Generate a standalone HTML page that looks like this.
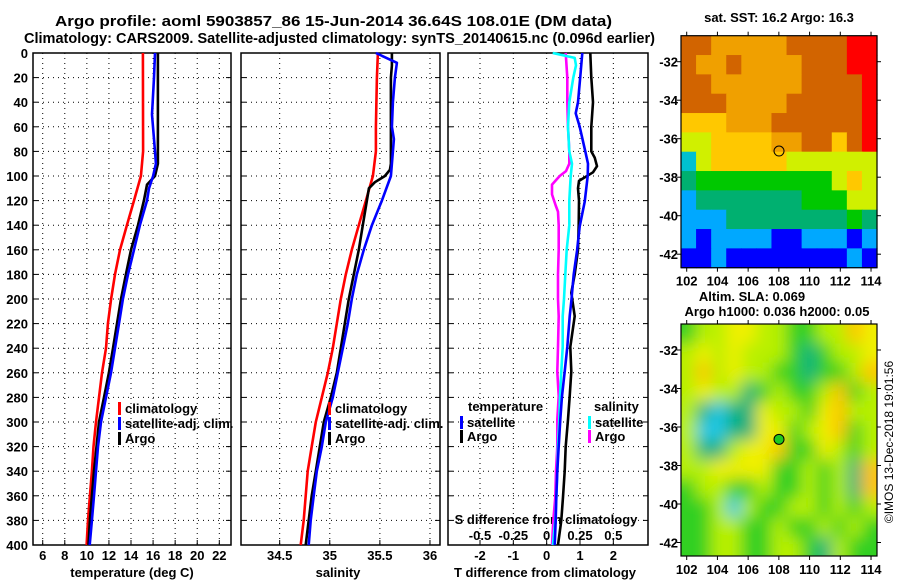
<!DOCTYPE html>
<html><head><meta charset="utf-8">
<style>
html,body{margin:0;padding:0;background:#fff;}
svg{display:block;font-family:"Liberation Sans",sans-serif;font-weight:bold;}
text{fill:#000;}
</style></head>
<body>
<svg id="chart" width="900" height="580" viewBox="0 0 900 580" xmlns="http://www.w3.org/2000/svg">
<defs>
<filter id="blur" x="-5%" y="-5%" width="110%" height="110%"><feGaussianBlur stdDeviation="8"/></filter>
<clipPath id="clipM2"><rect x="681" y="324" width="196" height="232"/></clipPath>
</defs>
<text x="55" y="26" font-size="14.5" textLength="557" lengthAdjust="spacingAndGlyphs">Argo profile: aoml 5903857_86 15-Jun-2014 36.64S 108.01E (DM data)</text>
<text x="24" y="43" font-size="14.5" textLength="631" lengthAdjust="spacingAndGlyphs">Climatology: CARS2009. Satellite-adjusted climatology: synTS_20140615.nc (0.096d earlier)</text>
<g id="g"></g>
</svg>
<script>
// ---- data (depth in m) ----
const depthsT_clim = [0,80,100,120,140,160,180,200,220,240,260,280,300,320,340,360,380,400];
const tempClim = [15.08,15.1,14.9,14.27,13.63,13.0,12.55,12.2,11.91,11.73,11.37,11.1,10.83,10.6,10.46,10.28,10.1,9.98];
const depthsT_sat = [0,20,50,60,80,90,100,110,120,140,160,180,200,220,240,260,280,300,320,340,360,380,400];
const tempSat = [16.17,16.08,15.9,15.99,16.17,16.26,16.0,15.63,15.45,14.81,14.27,13.73,13.27,12.91,12.55,12.19,11.73,11.28,11.01,10.83,10.65,10.46,10.26];
const depthsT_argo = [0,90,100,107,120,140,160,180,200,220,240,260,280,300,320,340,360,380,400];
const tempArgo = [16.44,16.44,16.17,15.45,15.17,14.63,14.0,13.54,13.09,12.73,12.37,12.0,11.55,11.1,10.87,10.65,10.46,10.28,10.15];

const depthsS_clim = [0,20,60,80,100,120,140,160,180,200,220,240,260,280,300,320,340,360,380,400];
const salClim = [35.48,35.47,35.46,35.46,35.43,35.36,35.29,35.22,35.16,35.11,35.07,35.03,34.98,34.92,34.86,34.82,34.78,34.76,34.74,34.71];
const depthsS_sat = [0,8,20,40,60,70,80,100,120,140,160,180,200,220,240,260,280,300,320,340,360,380,400];
const salSat = [35.46,35.67,35.65,35.63,35.62,35.64,35.63,35.61,35.52,35.42,35.34,35.27,35.22,35.18,35.13,35.08,35.03,34.96,34.92,34.87,34.84,34.81,34.79];
const depthsS_argo = [0,10,20,90,95,100,105,110,120,140,160,180,200,220,240,260,280,300,320,340,360,380,400];
const salArgo = [35.62,35.62,35.61,35.61,35.60,35.55,35.45,35.39,35.37,35.33,35.29,35.24,35.19,35.15,35.11,35.07,35.01,34.94,34.90,34.86,34.82,34.79,34.76];

const depthsD_T = [0,19,40,49,60,80,90,100,121,141,161,180,202,214,239,259,279,298,320,340,361,380,400];
const tDiffSat = [1.07,1.01,0.94,0.87,0.99,1.16,1.24,1.23,1.14,0.99,0.91,0.81,0.74,0.69,0.62,0.54,0.46,0.41,0.36,0.32,0.29,0.27,0.24];
const depthsD_TA = [0,20,40,60,80,85,92,97,104,110,120,140,160,180,195,214,239,259,279,298,320,340,361,380,400];
const tDiffArgo = [1.31,1.34,1.39,1.34,1.34,1.44,1.51,1.39,0.97,0.94,0.97,0.96,0.94,0.84,0.74,0.84,0.71,0.74,0.69,0.64,0.57,0.54,0.49,0.44,0.34];
const depthsD_S = [0,4,10,20,40,60,80,90,100,120,140,160,180,200,214,239,259,279,298,320,340,361,380,400];
const sDiffSat = [0.045,0.21,0.22,0.2,0.17,0.16,0.17,0.19,0.18,0.17,0.17,0.15,0.14,0.13,0.12,0.12,0.11,0.10,0.095,0.085,0.08,0.073,0.065,0.047];
const depthsD_SA = [0,20,40,60,80,90,96,100,107,115,124,129,140,160,180,200,214,239,259,279,298,320,340,361,380,400];
const sDiffArgo = [0.143,0.155,0.155,0.16,0.17,0.17,0.145,0.098,0.04,0.04,0.068,0.085,0.09,0.09,0.085,0.085,0.09,0.085,0.08,0.09,0.08,0.08,0.07,0.065,0.05,0.04];

const depthTicks = [0,20,40,60,80,100,120,140,160,180,200,220,240,260,280,300,320,340,360,380,400];
const tempTicks = [6,8,10,12,14,16,18,20,22];
const salTicks = [34.5,35,35.5,36];
const tDiffTicks = [-2,-1,0,1,2];
const sDiffTicks = [-0.5,-0.25,0,0.25,0.5];
const latTicks = [-32,-34,-36,-38,-40,-42];
const lonTicks = [102,104,106,108,110,112,114];

// SST map grid (codes), rows top->bottom
const sstGrid = [
"DDOOOOODDDDRR",
"DOODOOOODDDRR",
"DDOOOOOODDDDR",
"DDDOOOODDDDDR",
"YYYOOODDDDDDR",
"LLYYYYOODDYDR",
"CLYYYYYLLLLLL",
"TGGGGGGGGGLYL",
"STTTTTTTGGGLL",
"SSSTTTTTTTTGT",
"SBSSSSBBSSSBS",
"BBSBBBBBBBBSB"];
const sstColors = {R:"#ff0000",D:"#d26400",O:"#f0a000",Y:"#ffc800",L:"#d0f000",G:"#00c800",T:"#00b070",C:"#00c0d0",S:"#00a8ff",B:"#0000ff"};
const slaGrid = [
"gllyyllgglloy",
"lylylllgtglly",
"lolyllggtgglo",
"lylltglgglogl",
"ltcttyllgyoll",
"lccttyyglyogl",
"lttlyyoggylgl",
"llyyyygglglto",
"gllgglgglglto",
"gglclggllglgl",
"ggllgglgglglg",
"ggllggllgtlgg"];
const slaColors = {g:"#30d020",l:"#b8f000",y:"#f0f000",o:"#ffc400",t:"#10b080",c:"#20c8e8"};

// ---- helpers ----
const NS="http://www.w3.org/2000/svg";
const G=document.getElementById('g');
function mk(tag,attrs,parent){const e=document.createElementNS(NS,tag);for(const k in attrs)e.setAttribute(k,attrs[k]);(parent||G).appendChild(e);return e;}
function txt(x,y,s,size,anchor,parent){const t=mk('text',{x:x,y:y,'font-size':size,'text-anchor':anchor||'middle'},parent);t.textContent=s;return t;}

const PT=53, PB=545;
const yD = d => PT + d*(PB-PT)/400;
const panels = [
 {name:'temperature', x0:33, x1:231, v0:5.12, v1:23.06},
 {name:'salinity', x0:241, x1:440, v0:34.114, v1:36.1},
 {name:'difference', x0:448, x1:648, v0:-2.96, v1:3.04}
];
function sx(p,v){return p.x0+(v-p.v0)*(p.x1-p.x0)/(p.v1-p.v0);}

panels.forEach((p,i)=>{
  const g=mk('g',{});
  
  
  const ticks = i==0?tempTicks:(i==1?salTicks:tDiffTicks);
  depthTicks.forEach(d=>{ if(d>0&&d<400){ const l=mk('line',{x1:p.x0,x2:p.x1,y1:yD(d),y2:yD(d),stroke:'#000','stroke-width':1,'stroke-dasharray':'1 4'},g);
      }
    mk('line',{x1:p.x0,x2:p.x0+5,y1:yD(d),y2:yD(d),stroke:'#000'},g);
    mk('line',{x1:p.x1-5,x2:p.x1,y1:yD(d),y2:yD(d),stroke:'#000'},g);
  });
  ticks.forEach(v=>{ const x=sx(p,v);
    const l=mk('line',{x1:x,x2:x,y1:PT,y2:PB,stroke:'#000','stroke-width':1,'stroke-dasharray':'1 4'},g);
     
    mk('line',{x1:x,x2:x,y1:PB-5,y2:PB,stroke:'#000'},g);
    const t=txt(x,560,String(v),13,'middle',g);
     
  });
  const fr=mk('rect',{x:p.x0,y:PT,width:p.x1-p.x0,height:PB-PT,fill:'none',stroke:'#000','stroke-width':1.5},g);
   
});
depthTicks.forEach(d=>{const t=txt(28,yD(d)+5,String(d),13,'end');
   });
sDiffTicks.forEach(v=>{const p=panels[2]; const x=sx(p,v*4);
  const t=txt(x,540,String(v),13,'middle');  });
let t;
t=txt(546,524,'S difference from climatology',13);  
t=txt(132,577,'temperature (deg C)',13);  
t=txt(338,577,'salinity',13);  
t=txt(545,577,'T difference from climatology',13);  

function line(p,vals,deps,color,name,scale){
  const pts=vals.map((v,k)=>sx(p,v*(scale||1)).toFixed(1)+','+yD(deps[k]).toFixed(1)).join(' ');
  const l=mk('polyline',{points:pts,fill:'none',stroke:color,'stroke-width':2.6,'stroke-linejoin':'round'});
   
}
line(panels[0],tempClim,depthsT_clim,'#ff0000','temp-climatology-line');
line(panels[0],tempArgo,depthsT_argo,'#000','temp-argo-line');
line(panels[0],tempSat,depthsT_sat,'#0000ff','temp-satellite-line');
line(panels[1],salClim,depthsS_clim,'#ff0000','sal-climatology-line');
line(panels[1],salArgo,depthsS_argo,'#000','sal-argo-line');
line(panels[1],salSat,depthsS_sat,'#0000ff','sal-satellite-line');
line(panels[2],sDiffArgo,depthsD_SA,'#ff00ff','s-diff-argo-line',4);
line(panels[2],sDiffSat,depthsD_S,'#00ffff','s-diff-satellite-line',4);
line(panels[2],tDiffArgo,depthsD_TA,'#000','t-diff-argo-line');
line(panels[2],tDiffSat,depthsD_T,'#0000ff','t-diff-satellite-line');

function legend(x,y,color,label,name){
  const g=mk('g',{});
   
  mk('rect',{x:x,y:y-10,width:3,height:13,fill:color},g);
  txt(x+7,y+1,label,13,'start',g);
}
legend(118,412,'#ff0000','climatology','legend-climatology');
legend(118,427,'#0000ff','satellite-adj. clim.','legend-satellite-adj');
legend(118,442,'#000','Argo','legend-argo');
legend(328,412,'#ff0000','climatology','legend-sal-climatology');
legend(328,427,'#0000ff','satellite-adj. clim.','legend-sal-satellite-adj');
legend(328,442,'#000','Argo','legend-sal-argo');
t=txt(468,411,'temperature',13,'start');  
legend(460,426,'#0000ff','satellite','legend-t-satellite');
legend(460,440,'#000','Argo','legend-t-argo');
t=txt(594,411,'salinity',13,'start');  
legend(588,426,'#00ffff','satellite','legend-s-satellite');
legend(588,440,'#ff00ff','Argo','legend-s-argo');

// ---- maps ----
function drawMap(top,grid,colors,name,blur,circleFill){
  const L=681,R=877,B=top+232;
  const lx = lon => 686.7+(lon-102)*15.36;
  const ly = lat => top+26+(-32-lat)*19.25;
  const g=mk('g',{});
   
  const cells=mk('g',blur?{filter:'url(#blur)'}:{},blur?mk('g',{'clip-path':'url(#clipM2)'},g):g);
  const cw=(R-L)/grid[0].length, ch=(B-top)/grid.length;
  grid.forEach((row,r)=>{[...row].forEach((c,k)=>{
    const ex=blur?20:0;
    const cell=mk('rect',{x:L+k*cw-(k==0?ex:0),y:top+r*ch-(r==0?ex:0),width:cw+0.6+((k==0||k==row.length-1)?ex:0),height:ch+0.6+((r==0||r==grid.length-1)?ex:0),fill:colors[c]},cells);
     
  });});
  mk('rect',{x:L,y:top,width:R-L,height:B-top,fill:'none',stroke:'#000','stroke-width':1.2},g);
  latTicks.forEach(lat=>{const y=ly(lat);
    mk('line',{x1:L-4,x2:L,y1:y,y2:y,stroke:'#000'},g); mk('line',{x1:R,x2:R+4,y1:y,y2:y,stroke:'#000'},g);
    const tt=txt(678,y+5,String(lat),13,'end',g);  });
  lonTicks.forEach(lon=>{const x=lx(lon);
    mk('line',{x1:x,x2:x,y1:top-4,y2:top,stroke:'#000'},g); mk('line',{x1:x,x2:x,y1:B,y2:B+4,stroke:'#000'},g);
    const tt=txt(x,B+18,String(lon),13,'middle',g);  });
  const c=mk('circle',{cx:lx(108.01),cy:ly(-36.64),r:5,fill:circleFill,stroke:'#000','stroke-width':1},g);
   
}
drawMap(35.7,sstGrid,sstColors,'sst-map',false,'none');
drawMap(324,slaGrid,slaColors,'sla-map',true,'#20c820');
t=txt(779,22,'sat. SST: 16.2 Argo: 16.3',13);  
t=txt(752,301,'Altim. SLA: 0.069',13);  
t=txt(777,316,'Argo h1000: 0.036 h2000: 0.05',13);  
t=mk('text',{x:0,y:0,'font-size':12,'font-weight':'normal','text-anchor':'middle',transform:'translate(893,442) rotate(-90)'});
t.textContent='©IMOS 13-Dec-2018 19:01:56';
 
</script>
</body></html>
